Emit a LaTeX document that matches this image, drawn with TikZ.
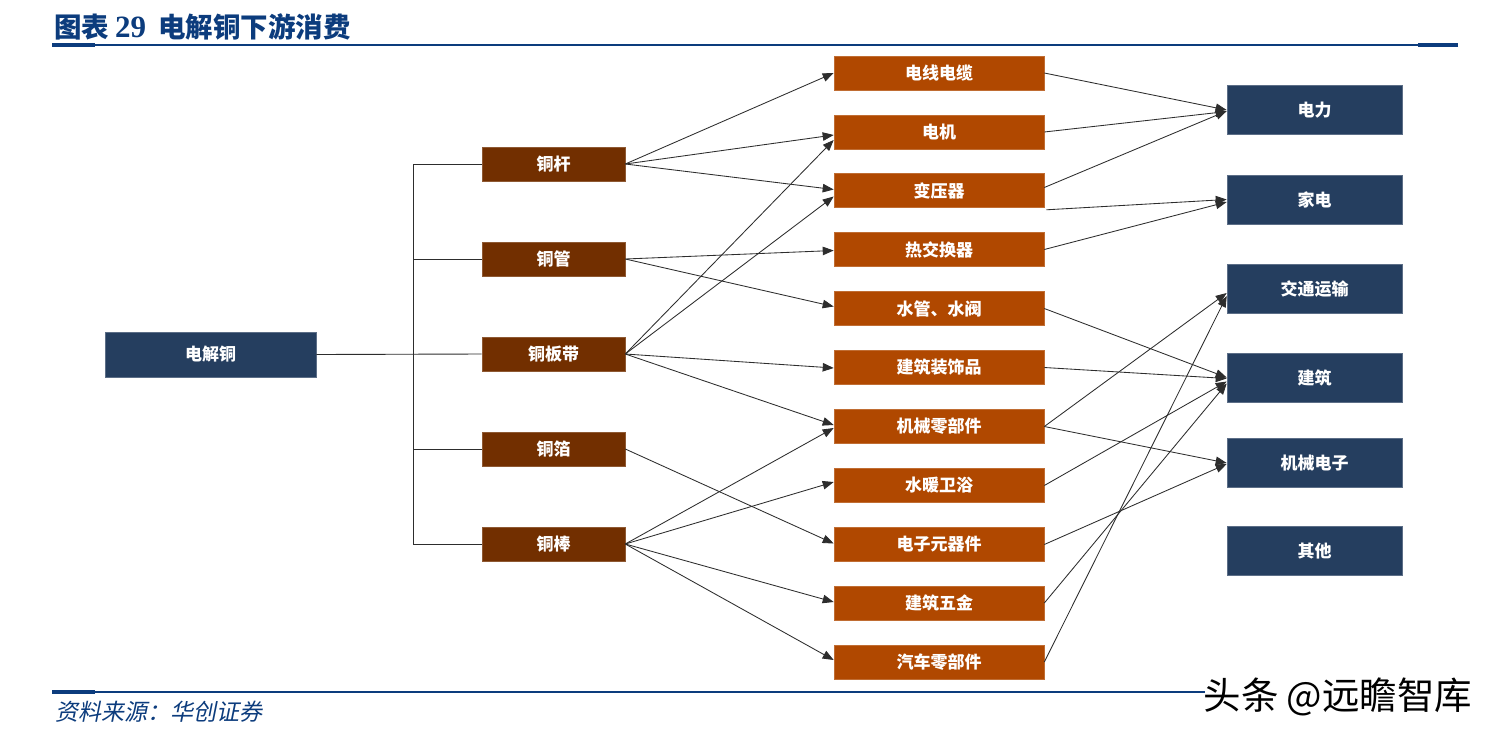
\documentclass[tikz,border=0pt]{standalone}
\usepackage{fontspec}
\setmainfont{Liberation Serif}
\newfontfamily\cjk{Noto Sans CJK SC}
\newfontfamily\cjkit[FakeSlant=0.2]{Noto Sans CJK SC}
\usetikzlibrary{arrows.meta,calc}
\definecolor{navy}{RGB}{37,62,95}
\definecolor{cubrown}{RGB}{114,47,0}
\definecolor{useorange}{RGB}{176,72,0}
\definecolor{titleblue}{RGB}{12,60,125}
\definecolor{linkgray}{RGB}{45,45,45}
\tikzset{
  boxbase/.style={rectangle, inner sep=0pt, text=white, font=\cjk\bfseries\fontsize{17}{18}\selectfont},
  srcbox/.style={boxbase, fill=navy, draw=navy!75!white, line width=0.6pt, minimum width=211pt, minimum height=45pt},
  cubox/.style={boxbase, fill=cubrown, draw=cubrown!80!white, line width=0.6pt, minimum width=143pt, minimum height=34pt},
  usebox/.style={boxbase, fill=useorange, draw=useorange!80!white, line width=0.6pt, minimum width=210pt, minimum height=34pt},
  endbox/.style={boxbase, fill=navy, draw=navy!75!white, line width=0.6pt, minimum width=175pt, minimum height=49pt},
  bus/.style={draw=linkgray, line width=0.9pt},
  arr/.style={draw=linkgray, line width=0.85pt, -{Triangle[length=11pt,width=8.5pt]}},
  rule/.style={draw=titleblue, line width=1.8pt},
  rulestub/.style={draw=titleblue, line width=4pt},
}
\begin{document}
\begin{tikzpicture}[x=1pt,y=-1pt]
\useasboundingbox[fill=white] (0,0) rectangle (1497,740);

% title and rules
\node[anchor=west, text=titleblue, inner sep=0pt] (title) at (54,27)
  {{\cjk\bfseries\fontsize{27.5}{29}\selectfont 图表}\hspace{6pt}{\bfseries\fontsize{31}{30}\selectfont 29}\hspace{12pt}{\cjk\bfseries\fontsize{27.5}{29}\selectfont 电解铜下游消费}};
\coordinate (tl) at (52,45);
\coordinate (tr) at (1458,45);
\draw[rule] (tl) -- (tr);
\draw[rulestub] (tl) -- ++(43,0);
\draw[rulestub] (tr) -- ++(-40,0);

\coordinate (bl) at (52,692);
\coordinate (br) at (1205,692);
\draw[rule] (bl) -- (br);
\draw[rulestub] (bl) -- ++(43,0);
\node[anchor=west, text=titleblue, inner sep=0pt] (source) at (55,712)
  {\cjkit\fontsize{23}{24}\selectfont 资料来源：华创证券};
\node[anchor=center, inner sep=0pt, text=black] (mark) at (1338,697)
  {\cjk\fontsize{37.5}{38}\selectfont 头条 @远瞻智库};

% source node
\node[srcbox] (cu) at (210.5,354.5) {电解铜};

% copper products
\node[cubox] (p1) at (553.5,164) {铜杆};
\node[cubox] (p2) at (553.5,259) {铜管};
\node[cubox] (p3) at (553.5,354) {铜板带};
\node[cubox] (p4) at (553.5,449) {铜箔};
\node[cubox] (p5) at (553.5,544) {铜棒};

% uses
\node[usebox] (m1) at (939,73) {电线电缆};
\node[usebox] (m2) at (939,132) {电机};
\node[usebox] (m3) at (939,190.5) {变压器};
\node[usebox] (m4) at (939,249.5) {热交换器};
\node[usebox] (m5) at (939,308.5) {水管、水阀};
\node[usebox] (m6) at (939,367.5) {建筑装饰品};
\node[usebox] (m7) at (939,426.5) {机械零部件};
\node[usebox] (m8) at (939,485.5) {水暖卫浴};
\node[usebox] (m9) at (939,544.5) {电子元器件};
\node[usebox] (m10) at (939,603) {建筑五金};
\node[usebox] (m11) at (939,662) {汽车零部件};

% end sectors
\node[endbox] (e1) at (1314.5,110) {电力};
\node[endbox] (e2) at (1314.5,199.5) {家电};
\node[endbox] (e3) at (1314.5,289) {交通运输};
\node[endbox] (e4) at (1314.5,377.5) {建筑};
\node[endbox] (e5) at (1314.5,463) {机械电子};
\node[endbox] (e6) at (1314.5,551) {其他};

% tree from source
\coordinate (bt) at (413,164);
\coordinate (bb) at (413,544);
\draw[bus] (bt) -- (bb);
\draw[bus] (cu.east) -- (p3.west);
\draw[bus] (bt) -- (p1.west);
\draw[bus] (413,259) -- (p2.west);
\draw[bus] (413,449) -- (p4.west);
\draw[bus] (bb) -- (p5.west);

% products to uses
\draw[arr] (p1.east) -- (m1.west);
\draw[arr] (p1.east) -- ($(m2.west)+(0,3)$);
\draw[arr] (p1.east) -- ($(m3.west)+(0,-1)$);
\draw[arr] (p2.east) -- ($(m4.west)+(0,1)$);
\draw[arr] (p2.east) -- ($(m5.west)+(0,-2)$);
\draw[arr] (p3.east) -- ($(m2.west)+(0,8)$);
\draw[arr] (p3.east) -- ($(m3.west)+(0,6)$);
\draw[arr] (p3.east) -- ($(m6.west)+(0,0.5)$);
\draw[arr] (p3.east) -- ($(m7.west)+(0,-1.5)$);
\draw[arr] (p4.east) -- ($(m9.west)+(0,-1)$);
\draw[arr] (p5.east) -- ($(m7.west)+(0,1.5)$);
\draw[arr] (p5.east) -- ($(m8.west)+(0,-3.5)$);
\draw[arr] (p5.east) -- ($(m10.west)+(0,-1)$);
\draw[arr] (p5.east) -- ($(m11.west)+(0,-2)$);

% uses to sectors
\draw[arr] (m1.east) -- (e1.west);
\draw[arr] (m2.east) -- ($(e1.west)+(0,1.5)$);
\draw[arr] ($(m3.east)+(0,-3)$) -- ($(e1.west)+(0,1)$);
\draw[arr] ($(m3.south east)+(2,2)$) -- (e2.west);
\draw[arr] (m4.east) -- ($(e2.west)+(0,2.5)$);
\draw[arr] (m5.east) -- (e4.west);
\draw[arr] (m6.east) -- ($(e4.west)+(0,1)$);
\draw[arr] (m7.east) -- ($(e3.west)+(0,4)$);
\draw[arr] (m7.east) -- (e5.west);
\draw[arr] (m8.east) -- ($(e4.west)+(0,4)$);
\draw[arr] (m9.east) -- ($(e5.west)+(0,1)$);
\draw[arr] (m10.east) -- ($(e4.west)+(0,6)$);
\draw[arr] (m11.east) -- ($(e3.west)+(0,7)$);
\end{tikzpicture}
\end{document}
